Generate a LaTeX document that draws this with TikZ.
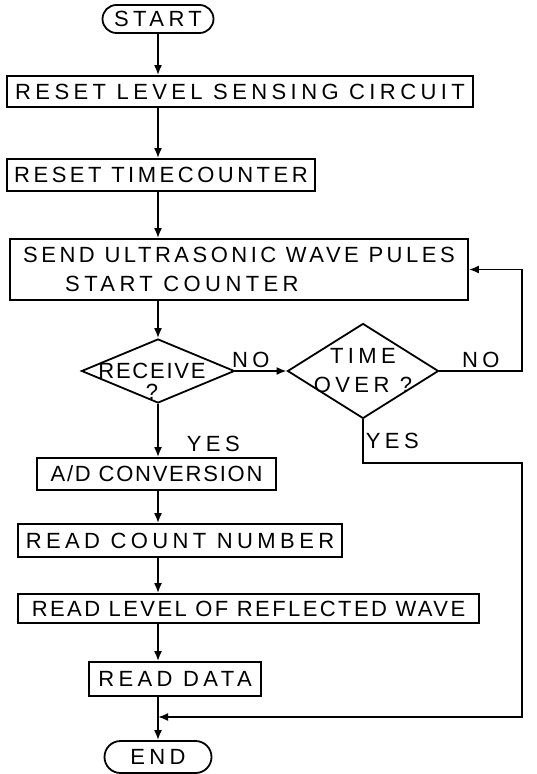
\documentclass[tikz,border=0pt]{standalone}
\usepackage{fontspec}
\setmainfont[LetterSpace=20]{Liberation Sans}
\usetikzlibrary{arrows.meta,positioning,shapes.geometric,shapes.misc}

\begin{document}
\begin{tikzpicture}[
  x=0.5pt, y=-0.5pt, line width=0.9pt, >={Latex[length=5pt,width=4pt]},
  txt/.style={font=\fontsize{11}{14.5}\selectfont},
  box/.style={draw, txt, inner sep=0pt},
  term/.style={box, rounded rectangle},
  decide/.style={draw, diamond, inner sep=0pt},
  lab/.style={txt, inner sep=1pt}
]
\useasboundingbox (0,0) rectangle (536,774);
\node[term, minimum width=55.5pt, minimum height=14pt] (start) at (158,19) {START};
\node[box, minimum width=233pt, minimum height=15.5pt] (reslvl) at (240,91.5) {RESET LEVEL SENSING CIRCUIT};
\node[box, minimum width=154pt, minimum height=16pt] (restc) at (161,175) {\addfontfeature{LetterSpace=16}RESET TIMECOUNTER};
\node[box, minimum width=229pt, minimum height=30.5pt, align=left] (send) at (239,269.5) {\addfontfeature{LetterSpace=16}SEND ULTRASONIC WAVE PULES\\\hspace*{21pt}START COUNTER};
\node[decide, minimum width=76.5pt, minimum height=32pt] (recv) at (158,371) {};
\node[lab, align=center] (recvtxt) at ([shift={(-6,10)}]recv.center) {\addfontfeature{LetterSpace=8}RECEIVE\\[-4pt]?};
\node[decide, minimum width=75.5pt, minimum height=47.5pt] (tover) at (363,371) {};
\node[lab, align=center] (tovertxt) at (tover) {TIME\\OVER ?};
\node[box, minimum width=119.5pt, minimum height=16pt] (adconv) at (156.5,474) {\addfontfeature{LetterSpace=8}A/D CONVERSION};
\node[box, minimum width=162pt, minimum height=16.5pt] (cnt) at (180,540.5) {READ COUNT NUMBER};
\node[box, minimum width=230.5pt, minimum height=14.5pt] (lvl) at (248.5,608.5) {\addfontfeature{LetterSpace=11}READ LEVEL OF REFLECTED WAVE};
\node[box, minimum width=86pt, minimum height=17pt] (data) at (175,679) {READ DATA};
\node[term, minimum width=53.5pt, minimum height=16pt] (stop) at (158,757) {END};
\coordinate (rx) at (522,0);
\coordinate (yesy) at (0,463);
\coordinate (merge) at (158,717);
\draw[->] (start) -- (start |- reslvl.north);
\draw[->] (start |- reslvl.south) -- (start |- restc.north);
\draw[->] (start |- restc.south) -- (start |- send.north);
\draw[->] (start |- send.south) -- (recv);
\draw[->] (recv) -- node[lab, above, pos=0.3]{NO} (tover);
\draw[->] (tover) -- node[lab, above]{NO} (tover.east -| rx) |- (send);
\draw[->] (recv) -- node[lab, right=13pt, pos=0.75]{YES} (recv |- adconv.north);
\draw[->] (tover) -- node[lab, right]{YES} (tover.south |- yesy) -| (rx |- merge) -- (merge);
\draw[->] (start |- adconv.south) -- (start |- cnt.north);
\draw[->] (start |- cnt.south) -- (start |- lvl.north);
\draw[->] (start |- lvl.south) -- (start |- data.north);
\draw[->] (start |- data.south) -- (stop);
\end{tikzpicture}
\end{document}
